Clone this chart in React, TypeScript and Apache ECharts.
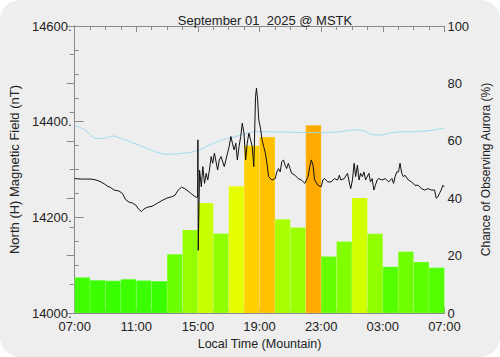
import React, { useEffect, useRef } from "react";
import * as echarts from "echarts";

// Chart texts
const titleText = "September 01  2025 @ MSTK";
const xTickLabels = ["07:00", "11:00", "15:00", "19:00", "23:00", "03:00", "07:00"];
const leftAxisName = "North (H) Magnetic Field (nT)";
const rightAxisName = "Chance of Observing Aurora (%)";
const xAxisName = "Local Time (Mountain)";

// Hourly chance of observing aurora (%), 07:00 -> 07:00
const auroraChance = [
  12.4, 11.4, 11.2, 11.8, 11.3, 11.1, 20.5, 28.9, 38.3, 27.7, 44.2, 58.3,
  61.3, 32.7, 29.8, 65.4, 19.7, 24.9, 40.1, 27.6, 16.1, 21.4, 17.8, 15.8,
];

// Magnetic field trace: hours since 07:00, nT
const magHours = [
  0, 0.43, 1.07, 1.39, 1.71, 1.92, 2.14, 2.35, 2.56, 2.88, 3.1, 3.31, 3.52, 3.74, 3.95, 4.16, 4.33, 4.48, 4.7, 5.02,
  5.34, 5.66, 5.98, 6.19, 6.3, 6.51, 6.72, 6.94, 7.15, 7.36, 7.58, 7.79, 7.9, 7.98, 8.0, 8.02, 8.11, 8.22, 8.32, 8.43,
  8.54, 8.64, 8.75, 8.86, 8.96, 9.07, 9.28, 9.39, 9.5, 9.71, 9.82, 9.92, 10.03, 10.14, 10.24, 10.35, 10.46, 10.56, 10.67, 10.78,
  10.88, 10.99, 11.1, 11.2, 11.31, 11.42, 11.52, 11.63, 11.74, 11.8, 11.88, 11.95, 12.06, 12.16, 12.27, 12.38, 12.48, 12.59, 12.8, 13.02,
  13.12, 13.23, 13.34, 13.44, 13.55, 13.66, 13.76, 13.87, 13.98, 14.08, 14.3, 14.51, 14.72, 14.94, 15.15, 15.26, 15.36, 15.47, 15.58, 15.79,
  16.0, 16.11, 16.22, 16.43, 16.64, 16.86, 17.07, 17.18, 17.28, 17.5, 17.71, 17.82, 17.92, 18.03, 18.14, 18.24, 18.35, 18.46, 18.56, 18.67,
  18.78, 18.88, 19.1, 19.2, 19.31, 19.42, 19.52, 19.63, 19.74, 19.95, 20.16, 20.38, 20.59, 20.7, 20.8, 20.91, 21.02, 21.12, 21.23, 21.34,
  21.44, 21.66, 21.87, 22.08, 22.3, 22.51, 22.72, 22.94, 23.15, 23.36, 23.47, 23.58, 23.68, 23.79, 23.9, 24.0,
];
const magValues = [
  14281, 14280, 14280, 14278, 14274, 14270, 14265, 14262, 14257, 14255, 14250, 14237, 14232, 14230, 14226, 14217, 14212, 14217, 14221, 14223,
  14229, 14235, 14240, 14242, 14243, 14246, 14257, 14263, 14260, 14255, 14249, 14244, 14242, 14242, 14362, 14131, 14299, 14264, 14306, 14271,
  14292, 14278, 14299, 14327, 14313, 14334, 14299, 14320, 14327, 14306, 14320, 14334, 14348, 14369, 14355, 14341, 14355, 14320, 14348, 14369,
  14397, 14376, 14320, 14355, 14376, 14362, 14348, 14306, 14452, 14470, 14445, 14404, 14387, 14362, 14348, 14334, 14313, 14285, 14278, 14281,
  14295, 14302, 14295, 14316, 14320, 14309, 14302, 14313, 14302, 14292, 14288, 14281, 14278, 14271, 14285, 14306, 14320, 14309, 14278, 14267,
  14264, 14278, 14281, 14274, 14274, 14281, 14278, 14288, 14278, 14281, 14292, 14274, 14260, 14278, 14313, 14285, 14309, 14278, 14292, 14285,
  14295, 14278, 14292, 14274, 14281, 14257, 14267, 14278, 14281, 14278, 14281, 14274, 14281, 14271, 14285, 14295, 14295, 14313, 14292, 14285,
  14288, 14278, 14274, 14267, 14267, 14260, 14257, 14260, 14257, 14257, 14240, 14243, 14250, 14257, 14267, 14264,
];

// Quiet-day baseline (light blue): hours since 07:00, nT
const baseHours = [0, 0.64, 1.5, 1.82, 2.46, 2.99, 3.84, 4.7, 5.55, 5.98, 7.04, 7.9, 8.75, 9.6, 10.46, 11.31, 11.95, 13.87, 15.58, 16.86, 18.35, 19.63, 20.91, 22.62, 24];
const baseValues = [14393, 14383, 14365, 14365, 14370, 14365, 14355, 14344, 14334, 14332, 14334, 14339, 14351, 14362, 14369, 14377, 14379, 14378, 14377, 14378, 14383, 14372, 14378, 14380, 14387];

function chanceColor(v: number): string {
  const r = Math.max(0, Math.min(255, Math.round(5.2 * v)));
  const g = v > 50 ? Math.max(0, Math.round(255 - (v - 50) * 5.5)) : 255;
  return `rgb(${r},${g},0)`;
}

const FONT = "Liberation Sans";
const AXIS_COLOR = "#8a8a8a";
const TEXT_COLOR = "#222";

export default function App() {
  const ref = useRef<HTMLDivElement>(null);
  useEffect(() => {
    document.body.style.margin = "0";
    const chart = echarts.init(ref.current!, null, { renderer: "svg" });
    const xCommon = {
      type: "value" as const,
      min: 0,
      max: 24,
      interval: 4,
      splitLine: { show: false },
      axisLine: { show: true, lineStyle: { color: AXIS_COLOR } },
      axisTick: { show: true, inside: true, length: 6, lineStyle: { color: AXIS_COLOR } },
      minorTick: { show: true, splitNumber: 4, length: 4, lineStyle: { color: AXIS_COLOR } },
    };
    chart.setOption({
      animation: false,
      textStyle: { fontFamily: FONT },
      title: {
        text: titleText,
        left: 260,
        textAlign: "center",
        top: 9,
        textStyle: { fontSize: 13, fontWeight: "normal", color: TEXT_COLOR, fontFamily: FONT },
      },
      grid: { left: 73, right: 52, top: 26, bottom: 44 },
      xAxis: [
        {
          ...xCommon,
          position: "bottom",
          name: xAxisName,
          nameLocation: "middle",
          nameGap: 22,
          nameTextStyle: { fontSize: 12.5, color: TEXT_COLOR },
          axisLabel: {
            margin: 7,
            fontSize: 13,
            color: TEXT_COLOR,
            formatter: (v: number) => xTickLabels[Math.round(v / 4)] ?? "",
          },
        },
        { ...xCommon, position: "top", axisLabel: { show: false } },
      ],
      yAxis: [
        {
          type: "value",
          position: "left",
          min: 14000,
          max: 14600,
          interval: 200,
          name: leftAxisName,
          nameLocation: "middle",
          nameGap: 48,
          nameRotate: 90,
          nameTextStyle: { fontSize: 13, color: TEXT_COLOR },
          splitLine: { show: false },
          axisLine: { show: true, lineStyle: { color: AXIS_COLOR } },
          axisTick: { show: true, inside: true, length: 9, lineStyle: { color: AXIS_COLOR } },
          minorTick: { show: true, splitNumber: 4, length: 4, lineStyle: { color: AXIS_COLOR } },
          axisLabel: { margin: 3, fontSize: 13, color: TEXT_COLOR, formatter: (v: number) => `${v}.` },
        },
        {
          type: "value",
          position: "right",
          min: 0,
          max: 100,
          interval: 20,
          name: rightAxisName,
          nameLocation: "middle",
          nameGap: 25,
          nameRotate: 90,
          nameTextStyle: { fontSize: 12, color: TEXT_COLOR },
          splitLine: { show: false },
          axisLine: { show: true, lineStyle: { color: AXIS_COLOR } },
          axisTick: { show: true, inside: true, length: 8, lineStyle: { color: AXIS_COLOR } },
          minorTick: { show: true, splitNumber: 2, length: 5, lineStyle: { color: AXIS_COLOR } },
          axisLabel: { margin: 3, fontSize: 13, color: TEXT_COLOR },
        },
      ],
      series: [
        {
          type: "custom",
          name: "aurora",
          xAxisIndex: 0,
          yAxisIndex: 1,
          z: 1,
          clip: true,
          encode: { x: 0, y: 1 },
          data: auroraChance.map((v, i) => [i, v]),
          renderItem: (params: any, api: any) => {
            const i = api.value(0);
            const v = api.value(1);
            const p0 = api.coord([i, v]);
            const p1 = api.coord([i + 1, 0]);
            return {
              type: "rect",
              shape: { x: p0[0], y: p0[1], width: p1[0] - p0[0], height: p1[1] - p0[1] },
              style: { fill: chanceColor(v), stroke: "rgba(255,255,255,0.25)", lineWidth: 0.6 },
            };
          },
        },
        {
          type: "line",
          name: "baseline",
          xAxisIndex: 0,
          yAxisIndex: 0,
          z: 3,
          showSymbol: false,
          smooth: 0.5,
          lineStyle: { color: "#9fd9ef", width: 1 },
          data: baseHours.map((h, i) => [h, baseValues[i]]),
        },
        {
          type: "line",
          name: "field",
          xAxisIndex: 0,
          yAxisIndex: 0,
          z: 4,
          showSymbol: false,
          lineStyle: { color: "#111", width: 1 },
          data: magHours.map((h, i) => [h, magValues[i]]),
        },
      ],
    });
    return () => chart.dispose();
  }, []);
  return (
    <div
      ref={ref}
      style={{ width: 500, height: 357, background: "#eeeeee", borderRadius: 20 }}
    />
  );
}
